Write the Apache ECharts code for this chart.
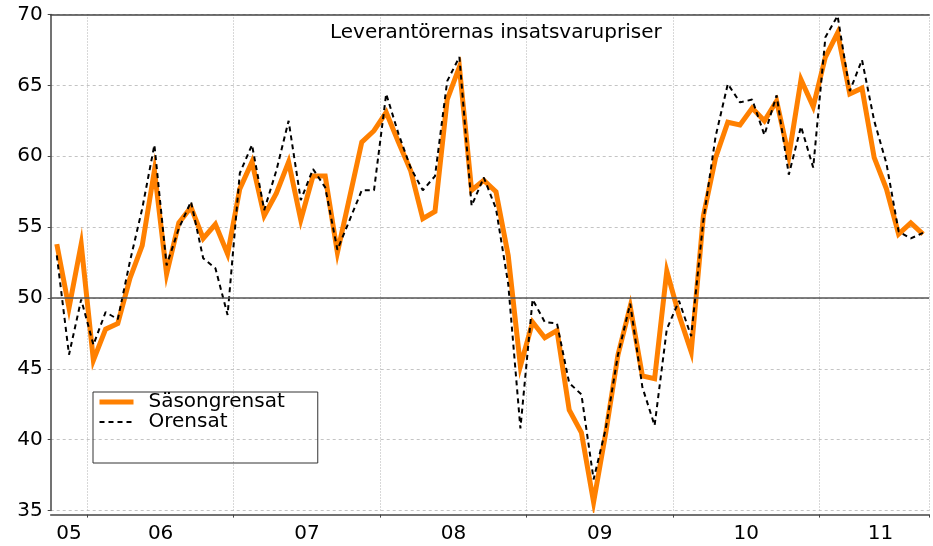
<!DOCTYPE html>
<html><head><meta charset="utf-8">
<script src="https://cdn.jsdelivr.net/npm/echarts@6/dist/echarts.min.js"></script>
<style>html,body{margin:0;padding:0;background:#fff}#c{width:933px;height:546px}</style>
</head><body><div id="c"></div>
<script>
// Monthly values, Oct 2005 .. Sep 2011
const seasonAdjusted = [
  53.8, 49.3, 53.8,
  45.6, 47.8, 48.2, 51.4, 53.7, 59.0, 51.7, 55.3, 56.4, 54.2, 55.2, 53.1,
  57.7, 59.6, 55.8, 57.4, 59.6, 55.5, 58.6, 58.6, 53.2, 57.1, 61.0, 61.8,
  63.1, 61.0, 59.0, 55.6, 56.1, 64.0, 66.3, 57.6, 58.3, 57.5, 53.0, 45.2,
  48.3, 47.2, 47.7, 42.1, 40.5, 35.6, 40.5, 46.0, 49.4, 44.5, 44.3, 51.9,
  48.8, 46.2, 55.8, 59.9, 62.4, 62.2, 63.4, 62.5, 63.9, 60.0, 65.4, 63.5,
  67.0, 68.7, 64.4, 64.8, 59.9, 57.7, 54.5, 55.3, 54.5
];
const unadjusted = [
  53.0, 46.0, 49.9,
  46.7, 49.0, 48.5, 52.6, 56.3, 60.8, 52.3, 54.9, 56.8, 52.8, 52.1, 48.8,
  58.8, 60.8, 56.2, 59.0, 62.5, 56.9, 59.1, 57.8, 53.4, 55.5, 57.6, 57.6,
  64.4, 61.6, 59.2, 57.6, 58.6, 65.3, 67.0, 56.5, 58.5, 56.3, 51.0, 40.8,
  49.9, 48.3, 48.2, 44.0, 43.2, 37.2, 40.8, 46.0, 49.6, 43.7, 41.0, 47.8,
  49.8, 47.3, 55.5, 61.4, 65.1, 63.8, 64.0, 61.5, 64.3, 58.7, 62.1, 59.2,
  68.4, 69.9, 64.6, 66.8, 62.5, 59.5, 54.7, 54.2, 54.6
];
const yearLabels = ['05', '06', '07', '08', '09', '10', '11'];
const labelMonths = ['2005-11', '2006-07', '2007-07', '2008-07', '2009-07', '2010-07', '2011-06'];
const seriesNames = ['Säsongrensat', 'Orensat'];
const titleText = 'Leverantörernas insatsvarupriser';

// month categories Oct 2005 .. Sep 2011
const categories = [];
{
  let y = 2005, m = 10;
  while (!(y === 2011 && m === 10)) {
    categories.push(y + '-' + String(m).padStart(2, '0'));
    m++; if (m > 12) { m = 1; y++; }
  }
}

const FONT = 'DejaVu Sans';
const isJan = (i, v) => String(v).slice(5) === '01';

const chart = echarts.init(document.getElementById('c'), null, { renderer: 'canvas' });
chart.setOption({
  animation: false,
  backgroundColor: '#ffffff',
  title: {
    text: titleText, left: 330, top: 23, padding: 0,
    textStyle: { fontFamily: FONT, fontSize: 20, fontWeight: 'normal', color: '#000' }
  },
  legend: {
    orient: 'vertical', left: 93, top: 392, padding: [0, 33, 31, 4],
    itemWidth: 34, itemHeight: 14, itemGap: 0,
    borderColor: '#333', borderWidth: 1, borderRadius: 0,
    itemStyle: { opacity: 0 },
    textStyle: { fontFamily: FONT, fontSize: 20, color: '#000', padding: [0, 0, 0, 10] },
    data: [
      { name: seriesNames[0], lineStyle: { width: 5, color: '#FF8000' }, itemStyle: { opacity: 0 } },
      { name: seriesNames[1], lineStyle: { width: 2, color: '#000', type: [5, 4] }, itemStyle: { opacity: 0 } }
    ]
  },
  grid: { left: 50.7, top: 14.5, width: 878.4, height: 496.1 },
  xAxis: [
    {
      type: 'category', data: categories, boundaryGap: true, offset: 4,
      axisLine: { lineStyle: { color: '#444', width: 1.5 } },
      axisTick: { show: true, interval: isJan, length: 3, lineStyle: { color: '#444', width: 1 } },
      splitLine: { show: true, interval: isJan, lineStyle: { type: [1, 2], color: '#b0b0b0', width: 1 } },
      axisLabel: {
        interval: (i, v) => labelMonths.includes(v),
        margin: 9,
        formatter: (v) => {
          const idx = labelMonths.indexOf(v);
          const lab = yearLabels[idx];
          return idx === 0 ? '{a|' + lab + '}' : '{b|' + lab + '}';
        },
        rich: {
          a: { fontFamily: FONT, fontSize: 20, color: '#000' },
          b: { fontFamily: FONT, fontSize: 20, color: '#000', padding: [0, 12, 0, 0] }
        }
      }
    },
    {
      type: 'category', data: categories, position: 'top', gridIndex: 0,
      axisLine: { show: true, lineStyle: { color: '#444', width: 1.5 } },
      axisTick: { show: false }, axisLabel: { show: false }, splitLine: { show: false }
    }
  ],
  yAxis: {
    type: 'value', min: 35, max: 70, interval: 5,
    axisLine: { show: true, lineStyle: { color: '#444', width: 1.5 } },
    axisTick: { show: true, length: 3, lineStyle: { color: '#444' } },
    axisLabel: { fontFamily: FONT, fontSize: 20, color: '#000', margin: 8 },
    splitLine: { show: true, lineStyle: { type: [3, 3], color: '#c4c4c4', width: 1 } }
  },
  series: [
    {
      name: seriesNames[0], type: 'line', data: seasonAdjusted, symbol: 'none',
      lineStyle: { color: '#FF8000', width: 5, join: 'miter' },
      itemStyle: { color: '#FF8000' },
      markLine: {
        silent: true, symbol: 'none', label: { show: false },
        lineStyle: { color: '#555', width: 1.5, type: 'solid' },
        data: [{ yAxis: 50 }]
      }
    },
    {
      name: seriesNames[1], type: 'line', data: unadjusted, symbol: 'none',
      lineStyle: { color: '#000', width: 2, type: [5, 4] },
      itemStyle: { color: '#000' }
    }
  ]
});
</script>
</body></html>
